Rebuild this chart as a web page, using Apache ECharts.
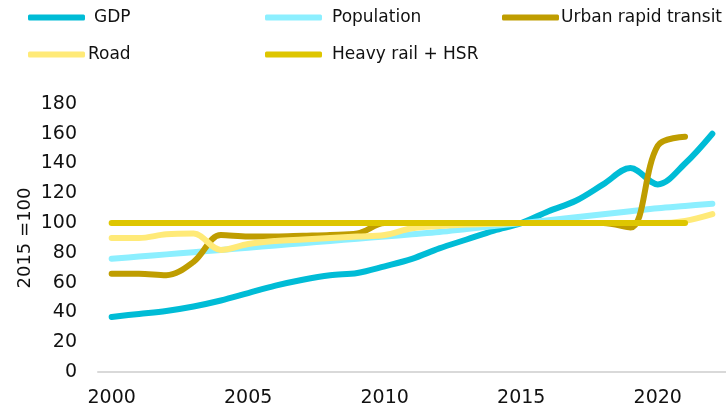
<!DOCTYPE html>
<html>
<head>
<meta charset="utf-8">
<script src="https://cdn.jsdelivr.net/npm/echarts@6/dist/echarts.min.js"></script>
<style>
  html, body { margin: 0; padding: 0; background: #fff; }
  #chart { width: 726px; height: 412px; }
</style>
</head>
<body>
<div id="chart"></div>
<script>
var years = ['2000','2001','2002','2003','2004','2005','2006','2007','2008','2009','2010',
  '2011','2012','2013','2014','2015','2016','2017','2018','2019','2020','2021','2022'];

var gdp = [37, 39, 41, 44, 48, 53, 58, 62, 65, 66.5, 71, 76, 83, 89, 95, 100, 108, 115, 126, 137, 126, 140, 160];
var population = [76, 77.5, 79, 80.5, 82, 83.5, 85, 86.5, 88, 89.5, 91, 92.5, 94, 96, 98, 100, 102, 104, 106, 108, 110, 111.5, 113];
var urbanTransit = [66, 66, 65, 74, 92, 91, 91, 91.5, 92, 93, 100, 100, 100, 100, 100, 100, 100, 100, 100, 97, 152, 158];
var road = [90, 90, 92.5, 93, 82, 86, 88, 89, 90, 91, 92, 96.5, 98, 99, 99.5, 100, 100, 100, 100, 100, 100, 101.5, 106];
var heavyRail = [100, 100, 100, 100, 100, 100, 100, 100, 100, 100, 100, 100, 100, 100, 100, 100, 100, 100, 100, 100, 100, 100];

var names = ['GDP', 'Population', 'Urban rapid transit', 'Road', 'Heavy rail + HSR'];
var colors = ['#00BCD6', '#8CEFFF', '#BF9D00', '#FFEA78', '#DEC600'];
var values = [gdp, population, urbanTransit, road, heavyRail];

var font = '"DejaVu Sans", sans-serif';

function legendFor(i, left, top, gap) {
  return {
    data: [names[i]],
    left: left,
    top: top,
    padding: 0,
    icon: 'roundRect',
    itemWidth: 57,
    itemHeight: 6,
    textStyle: { fontFamily: font, fontSize: 17, color: '#111', padding: [0, 0, 0, gap] },
    selectedMode: false
  };
}

var chart = echarts.init(document.getElementById('chart'));

var option = {
  animation: false,
  color: colors,
  legend: [
    legendFor(0, 28, 9, 4),
    legendFor(1, 265, 9, 5),
    legendFor(2, 502, 9, -3),
    legendFor(3, 28, 46, -2),
    legendFor(4, 265, 46, 5)
  ],
  grid: { left: 98, right: -6, top: 104, bottom: 40 },
  xAxis: {
    type: 'category',
    data: years,
    boundaryGap: true,
    axisLine: { lineStyle: { color: '#d9d9d9', width: 2 } },
    axisTick: { show: false },
    axisLabel: {
      interval: 4,
      margin: 17,
      fontFamily: font,
      fontSize: 19,
      color: '#111'
    }
  },
  yAxis: {
    type: 'value',
    min: 0,
    max: 180,
    interval: 20,
    name: '2015 =100',
    nameLocation: 'middle',
    nameRotate: 90,
    nameGap: 64,
    nameMoveOverlap: false,
    nameTextStyle: { fontFamily: font, fontSize: 18, color: '#111' },
    axisLine: { show: false },
    axisTick: { show: false },
    splitLine: { show: false },
    axisLabel: { margin: 21, fontFamily: font, fontSize: 19, color: '#111' }
  },
  series: names.map(function (n, i) {
    return {
      name: n,
      type: 'line',
      data: values[i],
      smooth: 0.35,
      showSymbol: false,
      lineStyle: { width: 6, color: colors[i], cap: 'round', join: 'round' },
      itemStyle: { color: colors[i] }
    };
  })
};

chart.setOption(option);
</script>
</body>
</html>
